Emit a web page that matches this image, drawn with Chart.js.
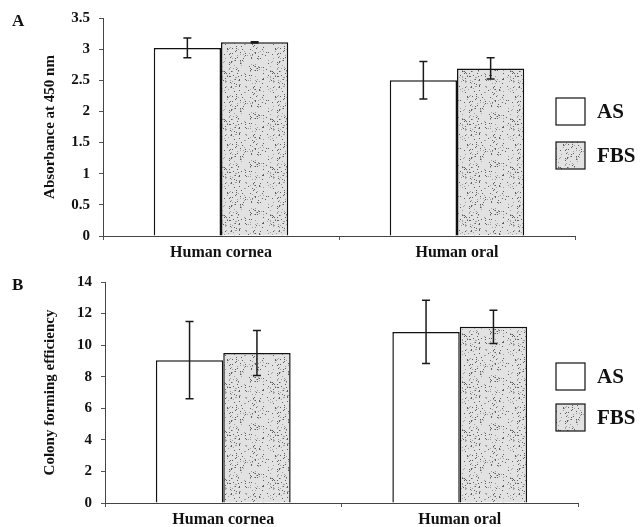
<!DOCTYPE html>
<html>
<head>
<meta charset="utf-8">
<script src="https://cdn.jsdelivr.net/npm/chart.js@4.4.0/dist/chart.umd.min.js"></script>
<style>
  body { margin: 0; background: #fff; }
  #wrap { position: relative; width: 641px; height: 527px; }
  .panel { position: absolute; left: 0; width: 641px; }
  .tag { position: absolute; left: 12px; font: bold 17px "Liberation Serif", serif; color: #111; }
</style>
</head>
<body>
<div id="wrap">
  <div class="panel" style="top:0;height:263px"><canvas id="chartA"></canvas></div>
  <div class="panel" style="top:263px;height:264px"><canvas id="chartB"></canvas></div>
  <div class="tag" style="top:11px">A</div>
  <div class="tag" style="top:275px">B</div>
</div>
<script>
// data
const categories = ['Human cornea', 'Human oral'];
const seriesNames = ['AS', 'FBS'];

const absAS = [3.02, 2.50];
const absASErr = [0.16, 0.30];
const absFBS = [3.11, 2.69];
const absFBSErr = [0.01, 0.17];

const cfeAS = [9.05, 10.84];
const cfeASErr = [2.45, 2.0];
const cfeFBS = [9.5, 11.16];
const cfeFBSErr = [1.43, 1.05];

const serif = 'Liberation Serif';

// stippled grey fill like the scanned FBS bars (fixed seed, texture only)
function makeStipple() {
  const c = document.createElement('canvas');
  c.width = 48; c.height = 48;
  const g = c.getContext('2d');
  g.fillStyle = '#e2e2e2';
  g.fillRect(0, 0, 48, 48);
  let s = 12345;
  const next = () => { s = (s * 1103515245 + 12345) & 0x7fffffff; return s / 0x7fffffff; };
  for (let i = 0; i < 230; i++) {
    const x = Math.floor(next() * 48), y = Math.floor(next() * 48);
    g.fillStyle = next() > 0.5 ? '#606060' : '#a0a0a0';
    g.fillRect(x, y, 1, 1);
  }
  return g.createPattern(c, 'repeat');
}
const stipple = makeStipple();

// error bars drawn from the y scale
const errorBars = {
  id: 'errorBars',
  afterDatasetsDraw(chart) {
    const ctx = chart.ctx;
    const y = chart.scales.y;
    ctx.save();
    ctx.strokeStyle = '#1a1a1a';
    ctx.lineWidth = 1.5;
    chart.data.datasets.forEach((ds, di) => {
      const meta = chart.getDatasetMeta(di);
      meta.data.forEach((bar, i) => {
        const v = ds.data[i], e = ds.errors[i];
        const top = y.getPixelForValue(v + e), bot = y.getPixelForValue(v - e);
        ctx.beginPath();
        ctx.moveTo(bar.x, top); ctx.lineTo(bar.x, bot);
        ctx.moveTo(bar.x - 4, top); ctx.lineTo(bar.x + 4, top);
        ctx.moveTo(bar.x - 4, bot); ctx.lineTo(bar.x + 4, bot);
        ctx.stroke();
      });
    });
    ctx.restore();
  }
};

// legend boxes at the right of each panel
const sideLegend = {
  id: 'sideLegend',
  afterDraw(chart, args, opts) {
    const ctx = chart.ctx;
    ctx.save();
    chart.data.datasets.forEach((ds, di) => {
      const bx = opts.x, by = opts.ys[di];
      ctx.fillStyle = ds.backgroundColor;
      ctx.fillRect(bx, by, 29, 27);
      ctx.strokeStyle = '#111';
      ctx.lineWidth = 1.2;
      ctx.strokeRect(bx, by, 29, 27);
      ctx.fillStyle = '#111';
      ctx.font = 'bold 21px "' + serif + '"';
      ctx.textBaseline = 'middle';
      ctx.fillText(ds.label, bx + 41, by + 15);
    });
    ctx.restore();
  }
};

function makeChart(id, asVals, asErr, fbsVals, fbsErr, yMax, yStep, yTitle, geo) {
  return new Chart(document.getElementById(id), {
    type: 'bar',
    data: {
      labels: categories,
      datasets: [
        { label: seriesNames[0], data: asVals, errors: asErr, backgroundColor: '#ffffff',
          borderColor: '#111', borderWidth: 1.5 },
        { label: seriesNames[1], data: fbsVals, errors: fbsErr, backgroundColor: stipple,
          borderColor: '#111', borderWidth: 1.5 }
      ]
    },
    options: {
      responsive: true,
      maintainAspectRatio: false,
      animation: false,
      categoryPercentage: 0.57,
      barPercentage: 1.0,
      layout: { padding: { top: geo.top, right: geo.right, left: 0, bottom: 0 } },
      plugins: {
        legend: { display: false },
        tooltip: { enabled: false },
        sideLegend: { x: 556, ys: geo.legendYs }
      },
      scales: {
        x: {
          grid: { drawOnChartArea: false, tickLength: 4, color: '#555' },
          border: { color: '#444', width: 1 },
          ticks: { color: '#111', padding: 3, font: { family: serif, weight: 'bold', size: 16 } },
          afterFit(s) { s.height = geo.xHeight; }
        },
        y: {
          min: 0, max: yMax,
          grid: { drawOnChartArea: false, tickLength: 4, color: '#555' },
          border: { color: '#444', width: 1 },
          ticks: { stepSize: yStep, color: '#111', padding: 9,
                   font: { family: serif, weight: 'bold', size: 15 },
                   callback: v => String(v) },
          title: { display: true, text: yTitle, color: '#111', padding: { top: 41, bottom: 0 },
                   font: { family: serif, weight: 'bold', size: 15 } },
          afterFit(s) { s.width = geo.left; }
        }
      }
    },
    plugins: [errorBars, sideLegend]
  });
}

makeChart('chartA', absAS, absASErr, absFBS, absFBSErr, 3.5, 0.5, 'Absorbance at 450 nm',
  { top: 14, right: 66, left: 103, xHeight: 27, legendYs: [98, 142] });
makeChart('chartB', cfeAS, cfeASErr, cfeFBS, cfeFBSErr, 14, 2, 'Colony forming efficiency',
  { top: 19, right: 63, left: 105, xHeight: 24, legendYs: [100, 141] });
</script>
</body>
</html>
